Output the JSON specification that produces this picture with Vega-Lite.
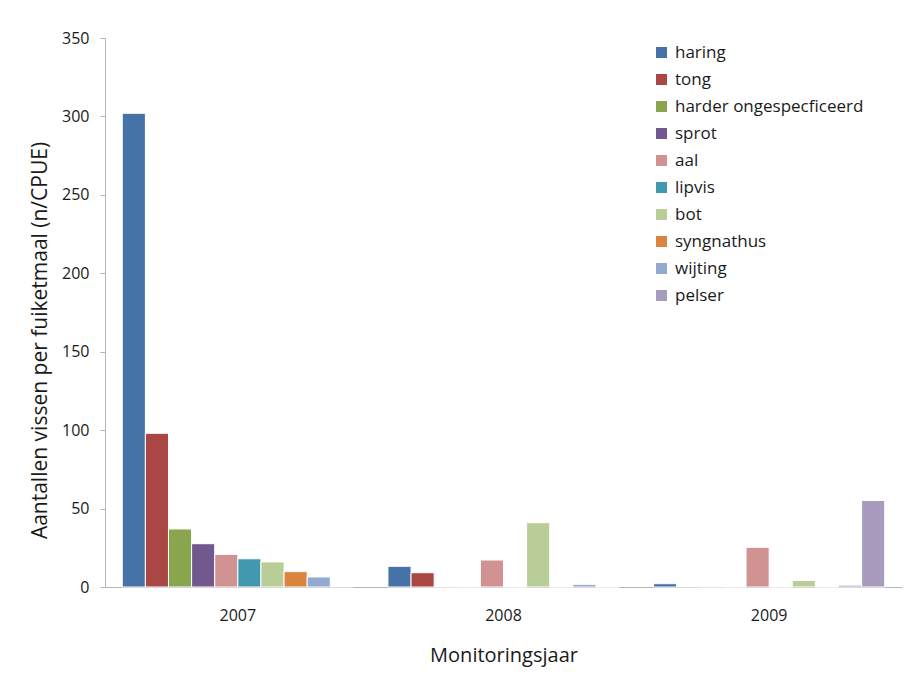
{
  "$schema": "https://vega.github.io/schema/vega-lite/v6.json",
  "width": 797,
  "height": 549,
  "autosize": {"type": "none"},
  "padding": {"left": 105, "top": 38, "right": 6, "bottom": 90},
  "background": "white",
  "config": {
    "font": "Open Sans",
    "view": {"stroke": null},
    "axis": {"labelFont": "Open Sans", "titleFont": "Open Sans", "labelColor": "#1a1a1a", "titleColor": "#1a1a1a", "titleFontWeight": "normal", "domainColor": "#b5b5b5", "tickColor": "#b5b5b5", "grid": false},
    "legend": {"labelFont": "Open Sans"}
  },
  "data": {
    "values": [
      {"jaar": "2007", "soort": "haring", "n": 302},
      {"jaar": "2007", "soort": "tong", "n": 98},
      {"jaar": "2007", "soort": "harder ongespecficeerd", "n": 37},
      {"jaar": "2007", "soort": "sprot", "n": 27.6},
      {"jaar": "2007", "soort": "aal", "n": 20.8},
      {"jaar": "2007", "soort": "lipvis", "n": 18},
      {"jaar": "2007", "soort": "bot", "n": 16},
      {"jaar": "2007", "soort": "syngnathus", "n": 9.8},
      {"jaar": "2007", "soort": "wijting", "n": 6.4},
      {"jaar": "2007", "soort": "pelser", "n": 0.3},
      {"jaar": "2008", "soort": "haring", "n": 13.2},
      {"jaar": "2008", "soort": "tong", "n": 9.1},
      {"jaar": "2008", "soort": "harder ongespecficeerd", "n": 0.1},
      {"jaar": "2008", "soort": "sprot", "n": 0},
      {"jaar": "2008", "soort": "aal", "n": 17.2},
      {"jaar": "2008", "soort": "lipvis", "n": 0},
      {"jaar": "2008", "soort": "bot", "n": 41},
      {"jaar": "2008", "soort": "syngnathus", "n": 0},
      {"jaar": "2008", "soort": "wijting", "n": 1.7},
      {"jaar": "2008", "soort": "pelser", "n": 0},
      {"jaar": "2009", "soort": "haring", "n": 2.1},
      {"jaar": "2009", "soort": "tong", "n": 0.3},
      {"jaar": "2009", "soort": "harder ongespecficeerd", "n": 0.1},
      {"jaar": "2009", "soort": "sprot", "n": 0},
      {"jaar": "2009", "soort": "aal", "n": 25.3},
      {"jaar": "2009", "soort": "lipvis", "n": 0},
      {"jaar": "2009", "soort": "bot", "n": 4.2},
      {"jaar": "2009", "soort": "syngnathus", "n": 0},
      {"jaar": "2009", "soort": "wijting", "n": 1.2},
      {"jaar": "2009", "soort": "pelser", "n": 55.2}
    ]
  },
  "mark": {"type": "bar", "stroke": "white", "strokeWidth": 1},
  "encoding": {
    "x": {
      "field": "jaar", "type": "nominal",
      "scale": {"paddingInner": 0.13, "paddingOuter": 0.065},
      "axis": {"title": "Monitoringsjaar", "labelAngle": 0, "ticks": false, "labelPadding": 20, "labelFontSize": 16, "titleFontSize": 20, "titleY": 68, "titleBaseline": "middle"}
    },
    "xOffset": {
      "field": "soort", "type": "nominal",
      "sort": ["haring", "tong", "harder ongespecficeerd", "sprot", "aal", "lipvis", "bot", "syngnathus", "wijting", "pelser"],
      "scale": {"paddingInner": 0, "paddingOuter": 0}
    },
    "y": {
      "field": "n", "type": "quantitative",
      "scale": {"domain": [0, 350], "nice": false},
      "axis": {"title": "Aantallen vissen per fuiketmaal (n/CPUE)", "values": [0, 50, 100, 150, 200, 250, 300, 350], "tickSize": 5, "labelPadding": 11, "labelFontSize": 16, "titleFontSize": 21, "titleX": -65, "titleY": 302, "titleBaseline": "middle", "titleAlign": "center"}
    },
    "color": {
      "field": "soort", "type": "nominal",
      "sort": ["haring", "tong", "harder ongespecficeerd", "sprot", "aal", "lipvis", "bot", "syngnathus", "wijting", "pelser"],
      "scale": {
        "domain": ["haring", "tong", "harder ongespecficeerd", "sprot", "aal", "lipvis", "bot", "syngnathus", "wijting", "pelser"],
        "range": ["#4572A7", "#AA4643", "#89A54E", "#71588F", "#D19392", "#4198AF", "#B9CD96", "#DB843D", "#93A9CF", "#A99BBD"]
      },
      "legend": {
        "title": null, "orient": "none", "legendX": 548, "legendY": 6,
        "symbolType": "square", "symbolSize": 121, "symbolStrokeWidth": 0,
        "labelFontSize": 17, "labelColor": "#1a1a1a", "rowPadding": 9, "labelOffset": 5, "labelLimit": 300
      }
    }
  }
}
